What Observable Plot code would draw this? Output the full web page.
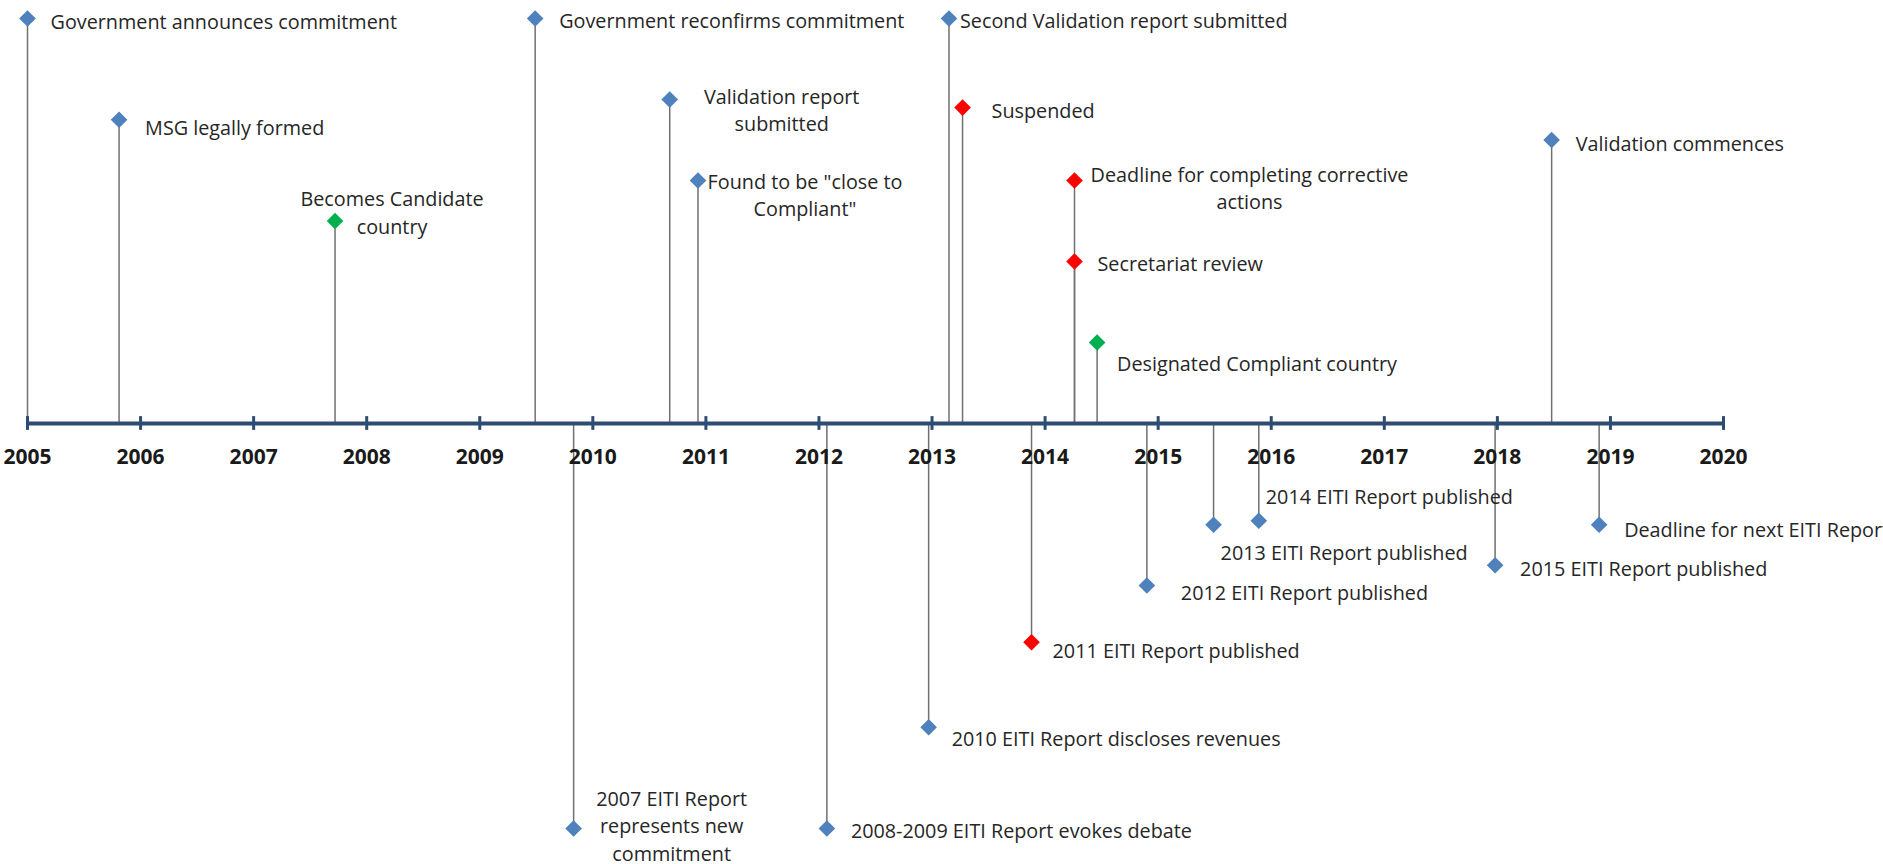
<!DOCTYPE html>
<html>
<head>
<meta charset="utf-8">
<script src="https://cdn.jsdelivr.net/npm/d3@7"></script>
<script src="https://cdn.jsdelivr.net/npm/@observablehq/plot@0.6"></script>
<style>
  html, body { margin: 0; padding: 0; background: #ffffff; overflow: hidden; }
  #chart svg { display: block; }
</style>
</head>
<body>
<div id="chart"></div>
<script>
// ---- Data ----
const eventLabels = [
  "Government announces commitment",
  "MSG legally formed",
  "Becomes Candidate\ncountry",
  "Government reconfirms commitment",
  "Validation report\nsubmitted",
  "Found to be \"close to\nCompliant\"",
  "Second Validation report submitted",
  "Suspended",
  "Deadline for completing corrective\nactions",
  "Secretariat review",
  "Designated Compliant country",
  "Validation commences",
  "2007 EITI Report\nrepresents new\ncommitment",
  "2008-2009 EITI Report evokes debate",
  "2010 EITI Report discloses revenues",
  "2011 EITI Report published",
  "2012 EITI Report published",
  "2013 EITI Report published",
  "2014 EITI Report published",
  "2015 EITI Report published",
  "Deadline for next EITI Report"
];
const eventDates = [
  2005.0, 2005.81, 2007.72, 2009.49, 2010.68, 2010.93, 2013.15, 2013.27,
  2014.26, 2014.26, 2014.46, 2018.48,
  2009.83, 2012.07, 2012.97, 2013.88, 2014.90, 2015.49, 2015.89, 2017.98, 2018.90
];
const eventLevels = [
  5, 3.75, 2.5, 5, 4, 3, 5, 3.9, 3, 2, 1, 3.5,
  -5, -5, -3.75, -2.7, -2.0, -1.25, -1.2, -1.75, -1.25
];
const eventStatus = [
  "normal", "normal", "positive", "normal", "normal", "normal", "normal", "negative",
  "negative", "negative", "positive", "normal",
  "normal", "normal", "normal", "negative", "normal", "normal", "normal", "normal", "normal"
];
const statusCategories = ["normal", "negative", "positive"];
const yearTicks = [2005, 2006, 2007, 2008, 2009, 2010, 2011, 2012, 2013, 2014, 2015, 2016, 2017, 2018, 2019, 2020];

// ---- Label layout (anchor, dx, dy in px) ----
const labelLayout = [
  ["start", 23, 2], ["start", 26, 6], ["middle", 57, -10], ["start", 24, 1],
  ["middle", 112, 9], ["middle", 107, 13], ["start", 11, 1], ["start", 29, 2],
  ["middle", 175, 6], ["start", 23, 1], ["start", 20, 20], ["start", 24, 2],
  ["middle", 98, -4], ["start", 24, 1], ["start", 23, 10], ["start", 21, 7],
  ["start", 34, 6], ["start", 7, 26], ["start", 7, -26], ["start", 25, 2], ["start", 25, 3]
];

const events = eventLabels.map((label, i) => ({
  label, date: eventDates[i], level: eventLevels[i], status: eventStatus[i]
}));

const FONT = "'Open Sans', 'Noto Sans', sans-serif";

const labelMarks = events.map((e, i) => Plot.text([e], {
  x: "date", y: "level", text: "label",
  textAnchor: labelLayout[i][0], dx: labelLayout[i][1], dy: labelLayout[i][2],
  lineHeight: 1.39, fontSize: 19.8, fill: "#262626", fontFamily: FONT
}));

const chart = Plot.plot({
  width: 1883,
  height: 864,
  marginLeft: 27,
  marginRight: 160,
  marginTop: 18,
  marginBottom: 36,
  style: { fontFamily: FONT, background: "#ffffff", overflow: "visible" },
  x: { domain: [2005, 2020], axis: null },
  y: { domain: [-5, 5], axis: null },
  color: { domain: statusCategories, range: ["#4F81BD", "#FF0000", "#00B050"] },
  marks: [
    Plot.ruleX(events, { x: "date", y1: 0, y2: "level", stroke: "#707070", strokeWidth: 1.5 }),
    Plot.ruleY([0], { x1: 2005, x2: 2020, stroke: "#2E4B72", strokeWidth: 4 }),
    Plot.ruleX(yearTicks, { x: d => d, y1: -0.085, y2: 0.085, stroke: "#2E4B72", strokeWidth: 3 }),
    Plot.text(yearTicks, {
      x: d => d, y: 0, dy: 34, text: d => String(d),
      fontWeight: "bold", fontSize: 21, fill: "#1a1a1a", fontFamily: FONT
    }),
    Plot.dot(events, { x: "date", y: "level", symbol: "diamond2", r: 7.5, fill: "status", stroke: null }),
    ...labelMarks
  ]
});
document.getElementById("chart").appendChild(chart);
</script>
</body>
</html>
